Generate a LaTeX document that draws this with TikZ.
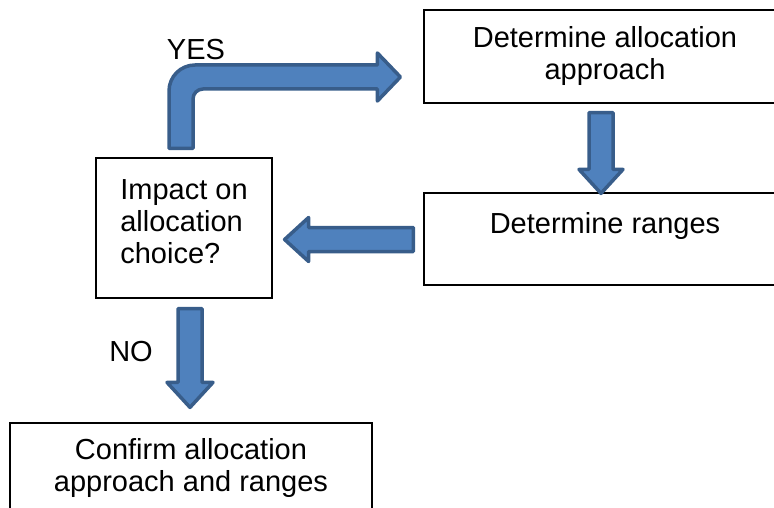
\documentclass[tikz,border=0pt]{standalone}
\usepackage{fontspec}
\setmainfont{Liberation Sans}
\usetikzlibrary{calc}
\definecolor{arrowfill}{RGB}{79,129,189}
\definecolor{arrowline}{RGB}{56,93,138}

\begin{document}
\begin{tikzpicture}[
    x=1pt,y=-1pt,
    box/.style={draw=black,line width=1.2pt,fill=white,align=center,inner sep=0pt,font=\fontsize{29}{32}\selectfont},
    tag/.style={font=\fontsize{29}{32}\selectfont},
    blockarrow/.style={draw=arrowline,fill=arrowfill,line width=3.5pt,line join=round}
]
\useasboundingbox (0,0) rectangle (774,508);
\clip (0,0) rectangle (774,508);

% Boxes
\node[box,minimum width=362pt,minimum height=93pt] (approach) at (605,56.5) {Determine allocation\\approach};
\node[box,minimum width=362pt,minimum height=92pt] (ranges) at (605,239) {Determine ranges\\\mbox{}};
\node[box,align=left,minimum width=176pt,minimum height=140pt] (impact) at (184,228) {Impact on\\allocation\\choice?\\[-20pt]\mbox{}};
\node[box,minimum width=362pt,minimum height=90pt] (confirm) at (191,468) {Confirm allocation\\approach and ranges};
\node[tag] (yes) at (196,50) {YES};
\node[tag] (no) at (131,352) {NO};

% YES: bent block arrow up and over to the approach box
\coordinate (yesfoot) at ($(impact.north)+(-3,-9)$);
\coordinate (yestip) at ($(approach.west)+(-23,20.5)$);
\draw[blockarrow] ($(yesfoot)+(-12,0)$) [rounded corners=26pt] -- ($(yesfoot|-yestip)+(-12,-12)$) [sharp corners]
    -- ($(yestip)+(-23,-12)$) -- ($(yestip)+(-23,-24)$) -- (yestip) -- ($(yestip)+(-23,24)$) -- ($(yestip)+(-23,12)$)
    [rounded corners=10pt] -- ($(yesfoot|-yestip)+(12,12)$) [sharp corners] -- ($(yesfoot)+(12,0)$) -- cycle;

% approach -> ranges
\coordinate (dtail) at ($(approach.south)+(-4,9)$);
\coordinate (dtip) at ($(ranges.north)+(-4,1)$);
\draw[blockarrow] ($(dtail)+(-12,0)$) -- ($(dtip)+(-12,-24)$) -- ($(dtip)+(-22,-24)$) -- (dtip)
    -- ($(dtip)+(22,-24)$) -- ($(dtip)+(12,-24)$) -- ($(dtail)+(12,0)$) -- cycle;

% ranges -> impact
\coordinate (ltail) at ($(ranges.west)+(-10,0.5)$);
\coordinate (ltip) at ($(impact.east)+(12,11.5)$);
\draw[blockarrow] ($(ltail)+(0,-12)$) -- ($(ltip)+(24,-12)$) -- ($(ltip)+(24,-22)$) -- (ltip)
    -- ($(ltip)+(24,22)$) -- ($(ltip)+(24,12)$) -- ($(ltail)+(0,12)$) -- cycle;

% NO: impact -> confirm
\coordinate (ntail) at ($(impact.south)+(6,10)$);
\coordinate (ntip) at ($(confirm.north)+(-1,-15)$);
\draw[blockarrow] ($(ntail)+(-12,0)$) -- ($(ntip)+(-12,-25)$) -- ($(ntip)+(-23,-25)$) -- (ntip)
    -- ($(ntip)+(23,-25)$) -- ($(ntip)+(12,-25)$) -- ($(ntail)+(12,0)$) -- cycle;
\end{tikzpicture}
\end{document}
